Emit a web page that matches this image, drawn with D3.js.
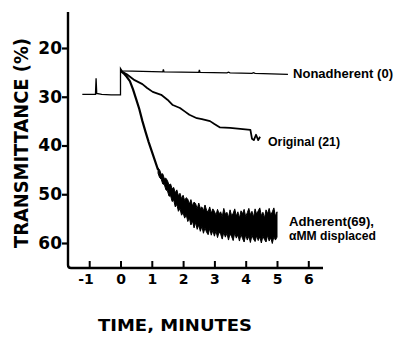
<!DOCTYPE html>
<html>
<head>
<meta charset="utf-8">
<script src="https://cdn.jsdelivr.net/npm/d3@7"></script>
<style>
  body { margin: 0; background: #fff; }
  svg { display: block; }
</style>
</head>
<body>
<svg id="grafico" width="398" height="337"></svg>
<script>
// valores
const ticksX = [-1, 0, 1, 2, 3, 4, 5, 6];
const ticksY = [20, 30, 40, 50, 60];

// [tempo (min), transmitancia (%)]
const nonadherent = [
  [-1.22, 29.5], [-0.8, 29.5], [-0.78, 26.2], [-0.76, 29.3], [-0.6, 29.5],
  [-0.3, 29.6], [0, 29.6], [0, 24.2], [0.05, 24.7], [1.35, 24.9], [1.37, 24.4],
  [1.39, 24.9], [2.5, 25.0], [2.52, 24.5], [2.54, 25.0], [3.4, 25.1], [3.45, 24.95],
  [3.5, 25.1], [4.2, 25.2], [4.25, 25.05], [4.3, 25.2], [5.35, 25.4]
];

const original = [
  [0, 24.7], [0.2, 25.4], [0.45, 26.6], [0.7, 27.4], [0.85, 28.2], [1.03, 29.0],
  [1.3, 29.6], [1.5, 30.6], [1.67, 31.7], [1.9, 32.3], [2.05, 33.0], [2.2, 33.7],
  [2.44, 34.4], [2.6, 34.6], [2.86, 35.0], [3.0, 35.6], [3.18, 36.3], [3.5, 36.4],
  [4.15, 36.8], [4.2, 38.6], [4.26, 38.9], [4.33, 37.8], [4.4, 38.9], [4.46, 38.2]
];

const adherentQueda = [
  [0, 24.7], [0.1, 25.2], [0.2, 25.9], [0.3, 26.8], [0.4, 28.5], [0.5, 30.5],
  [0.6, 32.5], [0.7, 35.0], [0.8, 37.2], [0.9, 39.3], [1.0, 41.2], [1.1, 43.1], [1.2, 45.0]
];

// faixa ruidosa do "Adherent": bordas superior e inferior
const ruidoT = [1.2, 1.25, 1.3, 1.35, 1.4, 1.45, 1.5, 1.55, 1.6, 1.65, 1.7, 1.75, 1.8, 1.85,
  1.9, 1.95, 2.0, 2.05, 2.1, 2.15, 2.2, 2.25, 2.3, 2.35, 2.4, 2.45, 2.5, 2.55, 2.6, 2.65,
  2.7, 2.75, 2.8, 2.85, 2.9, 2.95, 3.0, 3.05, 3.1, 3.15, 3.2, 3.25, 3.3, 3.35, 3.4, 3.45,
  3.5, 3.55, 3.6, 3.65, 3.7, 3.75, 3.8, 3.85, 3.9, 3.95, 4.0, 4.05, 4.1, 4.15, 4.2, 4.25,
  4.3, 4.35, 4.4, 4.45, 4.5, 4.55, 4.6, 4.65, 4.7, 4.75, 4.8, 4.85, 4.9, 4.95, 5.0];
const ruidoTopo = [44.6, 45.0, 45.9, 45.8, 46.8, 46.7, 47.2, 48.1, 47.9, 48.9, 48.6, 49.7,
  49.1, 50.3, 49.8, 50.9, 50.2, 51.3, 50.7, 51.0, 52.0, 51.1, 52.4, 51.6, 51.9, 53.0, 51.8,
  52.9, 52.6, 53.4, 52.2, 53.3, 53.6, 52.6, 53.9, 53.0, 53.5, 54.3, 53.1, 54.0, 53.6, 54.6,
  52.9, 54.1, 53.7, 54.8, 53.2, 54.4, 53.9, 53.0, 54.5, 53.6, 54.9, 53.4, 54.0, 53.1, 54.6,
  53.8, 52.9, 54.2, 53.5, 54.7, 53.0, 54.1, 53.4, 52.8, 54.4, 53.7, 54.9, 53.2, 54.0, 52.9,
  54.3, 53.6, 52.8, 54.5, 53.6];
const ruidoBase = [45.7, 46.6, 46.9, 47.9, 48.0, 49.1, 49.3, 50.4, 50.3, 51.5, 51.2, 52.6,
  52.1, 53.5, 52.9, 54.3, 53.8, 54.9, 54.2, 55.6, 54.9, 56.3, 55.5, 56.9, 55.8, 57.2, 56.3,
  57.6, 56.6, 58.0, 56.9, 57.8, 58.3, 57.0, 58.4, 57.4, 58.6, 57.5, 58.9, 57.7, 58.2, 59.2,
  57.8, 58.8, 58.0, 59.4, 58.1, 58.7, 59.5, 57.9, 59.0, 58.3, 59.6, 58.2, 59.1, 59.8, 58.3,
  59.4, 58.6, 59.9, 58.4, 59.2, 59.7, 58.5, 59.5, 58.7, 60.0, 58.6, 59.3, 59.8, 58.4, 59.6,
  58.9, 60.1, 58.7, 59.4, 58.8];

const svg = d3.select("#grafico");

const x = d3.scaleLinear().domain([-1, 6]).range([89.2, 308.3]);
const y = d3.scaleLinear().domain([20, 60]).range([48, 243]);

const fonteGrossa = "'DejaVu Sans', sans-serif";

// eixos desenhados como uma linha só (canto inferior esquerdo)
svg.append("path")
  .attr("d", "M68,12 V265 Q68,268 71,268 H323")
  .attr("fill", "none")
  .attr("stroke", "#000")
  .attr("stroke-width", 2.4);

const eixoY = svg.append("g")
  .attr("transform", "translate(68,0)")
  .call(d3.axisLeft(y).tickValues(ticksY).tickSize(6).tickPadding(0));
eixoY.select(".domain").remove();
eixoY.selectAll("line").attr("stroke-width", 2.2);
eixoY.selectAll("text")
  .attr("font-family", fonteGrossa)
  .attr("font-weight", "bold")
  .attr("font-size", 17)
  .attr("fill", "#000");

const eixoX = svg.append("g")
  .attr("transform", "translate(0,268)")
  .call(d3.axisBottom(x).tickValues(ticksX).tickSize(-7).tickPadding(6).tickFormat(d => String(d)));
eixoX.select(".domain").remove();
eixoX.selectAll("line").attr("stroke-width", 2);
eixoX.selectAll("text")
  .attr("font-family", fonteGrossa)
  .attr("font-weight", "bold")
  .attr("font-size", 14)
  .attr("fill", "#000")
  .attr("text-anchor", d => d < 0 ? "end" : "middle")
  .attr("dx", d => d < 0 ? 4 : 0);

// curvas
const linha = d3.line().x(d => x(d[0])).y(d => y(d[1]));

svg.append("path").datum(nonadherent)
  .attr("d", linha).attr("fill", "none").attr("stroke", "#000").attr("stroke-width", 1.3);

svg.append("path").datum(original)
  .attr("d", linha).attr("fill", "none").attr("stroke", "#000").attr("stroke-width", 1.8)
  .attr("stroke-linejoin", "round");

svg.append("path").datum(adherentQueda)
  .attr("d", linha).attr("fill", "none").attr("stroke", "#000").attr("stroke-width", 2.2);

const faixa = d3.area()
  .x((d, i) => x(ruidoT[i]))
  .y0((d, i) => y(ruidoBase[i]))
  .y1((d, i) => y(ruidoTopo[i]));

svg.append("path").datum(ruidoT)
  .attr("d", faixa).attr("fill", "#000").attr("stroke", "#000").attr("stroke-width", 1);

// rotulos das curvas
const rotulos = [
  { texto: "Nonadherent (0)", x: 293, y: 78, largura: 100 },
  { texto: "Original (21)", x: 268, y: 146, largura: 72 },
  { texto: "Adherent(69),", x: 289, y: 226, largura: 85 },
  { texto: "\u03b1MM displaced", x: 289, y: 240, largura: 87 }
];
svg.selectAll(".rotulo").data(rotulos).enter().append("text")
  .attr("class", "rotulo")
  .attr("x", d => d.x).attr("y", d => d.y)
  .attr("textLength", d => d.largura)
  .attr("lengthAdjust", "spacingAndGlyphs")
  .attr("font-family", "'Liberation Sans', sans-serif")
  .attr("font-weight", "bold")
  .attr("font-size", 12)
  .text(d => d.texto);

// titulos dos eixos
svg.append("text")
  .attr("transform", "translate(28,143) rotate(-90)")
  .attr("text-anchor", "middle")
  .attr("textLength", 210)
  .attr("lengthAdjust", "spacingAndGlyphs")
  .attr("font-family", fonteGrossa)
  .attr("font-weight", "bold")
  .attr("font-size", 19)
  .text("TRANSMITTANCE (%)");

svg.append("text")
  .attr("x", 175).attr("y", 331)
  .attr("text-anchor", "middle")
  .attr("textLength", 154)
  .attr("lengthAdjust", "spacingAndGlyphs")
  .attr("font-family", fonteGrossa)
  .attr("font-weight", "bold")
  .attr("font-size", 16)
  .text("TIME, MINUTES");
</script>
</body>
</html>
